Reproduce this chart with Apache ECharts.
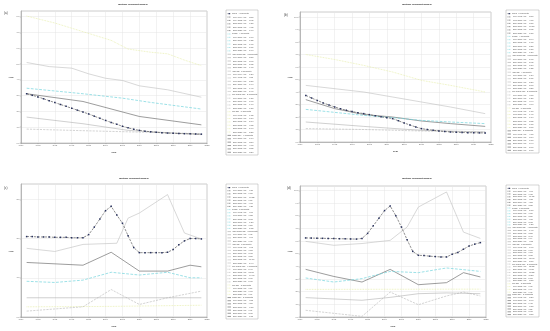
<!DOCTYPE html>
<html><head><meta charset="utf-8">
<script src="https://cdn.jsdelivr.net/npm/echarts@6/dist/echarts.min.js"></script>
<style>html,body{margin:0;padding:0;background:#fff}#c{width:550px;height:331px}</style>
</head><body><div id="c"></div>
<script>
// ---------- DATA ----------
const years = [1990,1991,1992,1993,1994,1995,1996,1997,1998,1999,2000,2001,2002,2003,2004,2005,2006,2007,2008,2009,2010,2011,2012,2013,2014,2015,2016,2017,2018,2019,2020,2021];
const xTicks = {min:1989, max:2022, step:3};
const panelLabels = ['(a)','(b)','(c)','(d)'];
const chartTitle = 'Multiple Joinpoint Models';
const xName = 'year';
const yName = 'ASR';
const yMax = [8.36, 10.4, 3.39, 10.34];
const yStep = [1, 1, 1, 1];
const groupNames = ['China','Global','High-middle SDI','High SDI','Low-middle SDI','Low SDI','Middle SDI'];

// panel (a)
const a_china = [3.12,3.02,2.92,2.80,2.68,2.56,2.44,2.32,2.20,2.08,1.96,1.84,1.70,1.56,1.43,1.30,1.18,1.06,0.96,0.87,0.80,0.75,0.71,0.68,0.65,0.63,0.61,0.60,0.59,0.58,0.57,0.56];
const a_global = [[1990,3.47],[2000,3.12],[2007,2.84],[2012,2.57],[2021,2.15]];
const a_hmsdi = [[1990,1.64],[2000,1.22],[2008,0.80],[2021,0.53]];
const a_hsdi = [[1990,5.10],[1994,4.84],[1998,4.74],[2001,4.38],[2004,4.10],[2007,3.96],[2010,3.62],[2015,3.37],[2021,2.90]];
const a_lmsdi = [[1990,0.88],[2000,0.78],[2021,0.59]];
const a_lsdi = [[1990,8.04],[1995,7.60],[2000,7.05],[2005,6.50],[2008,5.95],[2012,5.75],[2015,5.65],[2018,5.25],[2021,4.90]];
const a_msdi = [[1990,3.12],[2000,2.63],[2010,1.68],[2021,1.15]];

// panel (b)
const b_china = [3.73,3.52,3.32,3.13,2.96,2.80,2.66,2.54,2.44,2.35,2.27,2.19,2.10,2.02,1.95,1.87,1.70,1.52,1.36,1.20,1.07,1.00,0.94,0.89,0.84,0.80,0.78,0.76,0.75,0.74,0.73,0.72];
const b_global = [[1990,2.61],[2000,2.13],[2005,1.95],[2010,1.73],[2015,1.60],[2021,1.47]];
const b_hmsdi = [[1990,1.60],[2000,1.25],[2010,0.93],[2021,0.80]];
const b_hsdi = [[1990,4.53],[2000,4.00],[2005,3.60],[2010,3.20],[2015,2.80],[2021,2.27]];
const b_lmsdi = [[1990,1.07],[2000,1.00],[2010,0.88],[2021,0.80]];
const b_lsdi = [[1990,7.00],[1995,6.60],[2000,6.13],[2005,5.60],[2010,4.93],[2015,4.53],[2021,4.00]];
const b_msdi = [[1990,3.39],[1995,2.67],[2000,2.20],[2005,2.00],[2010,1.68],[2015,1.47],[2021,1.25]];

// panel (c)
const c_china = [2.05,2.05,2.04,2.04,2.04,2.03,2.03,2.03,2.02,2.02,2.02,2.10,2.29,2.50,2.71,2.82,2.60,2.39,2.07,1.77,1.64,1.64,1.64,1.64,1.64,1.65,1.72,1.84,1.94,2.00,2.00,1.99];
const c_global = [[1990,0.91],[1995,0.88],[2000,0.94],[2005,1.14],[2010,1.07],[2015,1.14],[2019,1.00],[2021,1.00]];
const c_hmsdi = [[1990,0.49],[2000,0.49],[2010,0.49],[2021,0.49]];
const c_hsdi = [[1990,1.75],[1995,1.67],[2000,1.85],[2006,1.88],[2008,2.52],[2010,2.65],[2015,3.12],[2018,2.14],[2021,1.99]];
const c_lmsdi = [[1990,0.15],[2000,0.26],[2005,0.70],[2010,0.32],[2015,0.49],[2021,0.66]];
const c_lsdi = [[1990,0.26],[2005,0.27],[2021,0.30]];
const c_msdi = [[1990,1.39],[2000,1.32],[2005,1.65],[2010,1.17],[2015,1.17],[2019,1.32],[2021,1.28]];

// panel (d)
const d_china = [6.24,6.23,6.22,6.21,6.20,6.19,6.18,6.17,6.16,6.15,6.20,6.60,7.20,7.80,8.40,8.76,8.00,7.10,6.10,5.18,4.87,4.85,4.80,4.77,4.74,4.74,4.95,5.10,5.35,5.60,5.75,5.87];
const d_global = [[1990,3.08],[1995,2.76],[2000,3.03],[2005,3.60],[2010,3.50],[2015,3.87],[2021,3.60]];
const d_hmsdi = [[1990,1.53],[2000,1.32],[2005,1.55],[2010,1.84],[2015,1.90],[2021,1.84]];
const d_hsdi = [[1990,5.97],[1995,5.66],[2000,5.80],[2005,6.05],[2008,7.10],[2010,8.68],[2015,9.87],[2018,6.70],[2021,6.20]];
const d_lmsdi = [[1990,0.53],[2000,0.05],[2005,1.97],[2010,0.97],[2015,1.66],[2018,1.97],[2021,1.66]];
const d_lsdi = [[1990,2.18],[2005,2.19],[2021,2.20]];
const d_msdi = [[1990,3.76],[1995,3.20],[2000,2.76],[2005,3.76],[2010,2.55],[2015,2.71],[2018,3.50],[2021,3.16]];

// legend texts
const legA = [
 ['China - 4 Joinpoints','1990-1994 APC = -3.51*','1994-2002 APC = -3.92*','2002-2010 APC = -7.21*','2010-2015 APC = -4.62*','2015-2021 APC = -1.90*'],
 ['Global - 4 Joinpoints','1990-2000 APC = -1.06*','2000-2007 APC = -1.32*','2007-2012 APC = -1.98*','2012-2017 APC = -2.11*','2017-2021 APC = -2.40*'],
 ['High-middle SDI - 3 Joinpoints','1990-2000 APC = -2.85*','2000-2008 APC = -5.01*','2008-2015 APC = -2.72*','2015-2021 APC = -1.45*'],
 ['High SDI - 5 Joinpoints','1990-1994 APC = -1.30*','1994-1998 APC = -0.52','1998-2004 APC = -2.31*','2004-2010 APC = -1.99*','2010-2015 APC = -1.41*','2015-2021 APC = -2.47*'],
 ['Low-middle SDI - 3 Joinpoints','1990-2000 APC = -1.21*','2000-2010 APC = -1.07*','2010-2015 APC = -1.40*','2015-2021 APC = -1.31*'],
 ['Low SDI - 5 Joinpoints','1990-1995 APC = -1.12*','1995-2000 APC = -1.50*','2000-2008 APC = -2.14*','2008-2015 APC = -0.73*','2015-2018 APC = -2.40*','2018-2021 APC = -2.35*'],
 ['Middle SDI - 4 Joinpoints','1990-2000 APC = -1.69*','2000-2005 APC = -3.80*','2005-2010 APC = -4.61*','2010-2015 APC = -3.82*','2015-2021 APC = -3.30*']
];
const legB = [
 ['China - 5 Joinpoints','1990-1995 APC = -5.57*','1995-2000 APC = -4.05*','2000-2005 APC = -3.75*','2005-2010 APC = -10.37*','2010-2015 APC = -5.62*','2015-2021 APC = -1.85*'],
 ['Global - 4 Joinpoints','1990-2000 APC = -2.04*','2000-2005 APC = -1.71*','2005-2010 APC = -2.35*','2010-2015 APC = -1.55*','2015-2021 APC = -1.36*'],
 ['High-middle SDI - 3 Joinpoints','1990-2000 APC = -2.45*','2000-2010 APC = -2.93*','2010-2015 APC = -1.50*','2015-2021 APC = -1.33*'],
 ['High SDI - 4 Joinpoints','1990-2000 APC = -1.24*','2000-2005 APC = -2.11*','2005-2010 APC = -2.36*','2010-2015 APC = -2.67*','2015-2021 APC = -3.35*'],
 ['Low-middle SDI - 3 Joinpoints','1990-2000 APC = -0.68*','2000-2010 APC = -1.28*','2010-2015 APC = -0.94*','2015-2021 APC = -0.90*'],
 ['Low SDI - 5 Joinpoints','1990-1995 APC = -1.17*','1995-2000 APC = -1.47*','2000-2005 APC = -1.79*','2005-2010 APC = -2.52*','2010-2015 APC = -1.68*','2015-2021 APC = -2.05*'],
 ['Middle SDI - 5 Joinpoints','1990-1995 APC = -4.65*','1995-2000 APC = -3.79*','2000-2005 APC = -1.87*','2005-2010 APC = -3.44*','2010-2015 APC = -2.67*','2015-2021 APC = -2.67*']
];
const legC = [
 ['China - 5 Joinpoints','1990-2000 APC = -0.15','2000-2005 APC = 6.89*','2005-2010 APC = -10.33*','2010-2015 APC = 0.12','2015-2019 APC = 4.98*','2019-2021 APC = -0.25'],
 ['Global - 5 Joinpoints','1990-1995 APC = -0.67','1995-2000 APC = 1.33*','2000-2005 APC = 3.93*','2005-2010 APC = -1.26*','2010-2015 APC = 1.27*','2015-2021 APC = -2.13*'],
 ['High-middle SDI - 2 Joinpoints','1990-2000 APC = 0.02','2000-2010 APC = -0.01','2010-2021 APC = 0.03'],
 ['High SDI - 5 Joinpoints','1990-1995 APC = -0.93','1995-2006 APC = 1.15*','2006-2010 APC = 8.95*','2010-2015 APC = 3.36*','2015-2018 APC = -11.76*','2018-2021 APC = -2.44*'],
 ['Low-middle SDI - 4 Joinpoints','1990-2000 APC = 5.49*','2000-2005 APC = 21.93*','2005-2010 APC = -14.66*','2010-2015 APC = 8.91*','2015-2021 APC = 5.07*'],
 ['Low SDI - 2 Joinpoints','1990-2005 APC = 0.26','2005-2021 APC = 0.66*','2015-2021 APC = 0.71'],
 ['Middle SDI - 5 Joinpoints','1990-2000 APC = -0.52','2000-2005 APC = 4.56*','2005-2010 APC = -6.78*','2010-2015 APC = 0.01','2015-2019 APC = 3.07*','2019-2021 APC = -1.53']
];
const legD = [
 ['China - 5 Joinpoints','1990-2000 APC = -0.07','2000-2005 APC = 7.05*','2005-2010 APC = -11.13*','2010-2015 APC = -0.55','2015-2019 APC = 4.28*','2019-2021 APC = 2.35*'],
 ['Global - 5 Joinpoints','1990-1995 APC = -2.17*','1995-2000 APC = 1.87*','2000-2005 APC = 3.51*','2005-2010 APC = -0.56','2010-2015 APC = 2.03*','2015-2021 APC = -1.25*'],
 ['High-middle SDI - 4 Joinpoints','1990-2000 APC = -1.47*','2000-2005 APC = 3.25*','2005-2010 APC = 3.47*','2010-2015 APC = 0.64','2015-2021 APC = -0.53'],
 ['High SDI - 5 Joinpoints','1990-1995 APC = -1.07*','1995-2005 APC = 0.67*','2005-2010 APC = 7.50*','2010-2015 APC = 2.62*','2015-2018 APC = -12.06*','2018-2021 APC = -2.57*'],
 ['Low-middle SDI - 5 Joinpoints','1990-2000 APC = -22.35*','2000-2005 APC = 46.03*','2005-2010 APC = -13.28*','2010-2015 APC = 11.31*','2015-2018 APC = 5.80*','2018-2021 APC = -5.58*'],
 ['Low SDI - 2 Joinpoints','1990-2005 APC = 0.03','2005-2015 APC = 0.04','2015-2021 APC = 0.05'],
 ['Middle SDI - 5 Joinpoints','1990-1995 APC = -3.20*','1995-2000 APC = -2.96*','2000-2005 APC = 6.42*','2005-2010 APC = -7.55*','2010-2015 APC = 1.22','2015-2018 APC = 8.95*','2018-2021 APC = -3.55*']
];

// ---------- LAYOUT / STYLE ----------
const panels = [
 {grid:{left:21,top:11,width:186,height:132}, data:[a_china,a_global,a_hmsdi,a_hsdi,a_lmsdi,a_lsdi,a_msdi], leg:legA, box:[226,10,32,145], title:[133,4], lab:[4,13], yn:[11,77]},
 {grid:{left:300,top:12,width:191,height:130}, data:[b_china,b_global,b_hmsdi,b_hsdi,b_lmsdi,b_lsdi,b_msdi], leg:legB, box:[506,10,33,143], title:[417,4], lab:[284,15], yn:[290,77]},
 {grid:{left:21,top:184,width:186,height:133}, data:[c_china,c_global,c_hmsdi,c_hsdi,c_lmsdi,c_lsdi,c_msdi], leg:legC, box:[226,184,32,135], title:[134,178], lab:[4,188], yn:[11,251]},
 {grid:{left:300,top:186,width:186,height:131}, data:[d_china,d_global,d_hmsdi,d_hsdi,d_lmsdi,d_lsdi,d_msdi], leg:legD, box:[506,185,33,132], title:[417,178], lab:[287,188], yn:[290,251]}
];
const gStyle = [
 {color:'#444', type:'dashed', width:0.6, sym:'rect', symSize:1.5, symColor:'#2a3360'},
 {color:'#72d4dc', type:'dashed', width:0.7, sym:'none'},
 {color:'#a8a8a8', type:'solid', width:0.55, sym:'none'},
 {color:'#bdbdbd', type:'solid', width:0.6, sym:'none'},
 {color:'#b0b0b0', type:'dashed', width:0.55, sym:'none'},
 {color:'#e6eda8', type:'dotted', width:0.8, sym:'none'},
 {color:'#5a5a5a', type:'solid', width:0.6, sym:'none'}
];

const option = {animation:false, backgroundColor:'#fff', grid:[], xAxis:[], yAxis:[], series:[], graphic:[]};
panels.forEach((p,i)=>{
  option.grid.push(Object.assign({show:true, borderColor:'#999', borderWidth:0.5, backgroundColor:'#fff'}, p.grid));
  option.xAxis.push({type:'value', gridIndex:i, min:xTicks.min, max:xTicks.max, interval:xTicks.step,
    axisLine:{show:true, onZero:false, lineStyle:{color:'#888', width:0.5}},
    axisTick:{show:true, length:1.2, lineStyle:{color:'#888', width:0.4}},
    axisLabel:{fontSize:2.2, color:'#666', margin:1.5, formatter:v=>String(v)},
    splitLine:{show:true, lineStyle:{color:'#e4e4e4', width:0.5}},
    name:xName, nameLocation:'middle', nameGap:8, nameTextStyle:{fontSize:2.4, color:'#333', fontWeight:'bold'}});
  option.yAxis.push({type:'value', gridIndex:i, min:0, max:yMax[i], interval:yStep[i],
    axisLine:{show:true, lineStyle:{color:'#888', width:0.5}},
    axisTick:{show:true, length:1.2, lineStyle:{color:'#888', width:0.4}},
    axisLabel:{fontSize:2.2, color:'#666', margin:1.5, showMaxLabel:false, formatter:v=>v.toFixed(1)},
    splitLine:{show:true, lineStyle:{color:'#e4e4e4', width:0.5}}});
  p.data.forEach((d,k)=>{
    const s = gStyle[k];
    const data = (typeof d[0] === 'number') ? d.map((v,j)=>[years[j], v]) : d;
    option.series.push({type:'line', xAxisIndex:i, yAxisIndex:i, data:data, name:groupNames[k],
      symbol: s.sym, symbolSize: s.symSize||0, showSymbol: s.sym!=='none', silent:true,
      itemStyle:{color: s.symColor||s.color},
      lineStyle:{color:s.color, type:s.type, width:s.width}, z: 10-k});
  });
  option.graphic.push({type:'text', x:p.title[0], y:p.title[1], style:{text:chartTitle, fontSize:2.4, fontWeight:'bold', fill:'#222', align:'center', verticalAlign:'middle'}});
  option.graphic.push({type:'text', x:p.lab[0], y:p.lab[1], style:{text:panelLabels[i], fontSize:3, fill:'#333', verticalAlign:'middle'}});
  option.graphic.push({type:'text', x:p.yn[0], y:p.yn[1], style:{text:yName, fontSize:2.4, fontWeight:'bold', fill:'#333', align:'center', verticalAlign:'middle'}});
  const [bx,by,bw,bh] = p.box;
  option.graphic.push({type:'rect', shape:{x:bx,y:by,width:bw,height:bh}, style:{fill:'#fff', stroke:'#aaa', lineWidth:0.5}});
  let total = 0; p.leg.forEach(g=>total+=g.length);
  const rh = (bh-3)/total;
  let r = 0;
  p.leg.forEach((g,k)=>{
    const s = gStyle[k];
    g.forEach((t,j)=>{
      const yy = by + 2 + rh*(r+0.5);
      option.graphic.push({type:'line', shape:{x1:bx+1.5,y1:yy,x2:bx+5,y2:yy}, style:{stroke:s.color, lineWidth:0.6, lineDash: s.type==='solid'?null:[1,0.6]}});
      if (j===0 && s.sym!=='none') option.graphic.push({type:'rect', shape:{x:bx+2.6,y:yy-0.6,width:1.2,height:1.2}, style:{fill:s.symColor}});
      option.graphic.push({type:'text', x: j===0 ? bx+6 : bx+7, y:yy, style:{text:t, fontSize:1.9, fill:'#555', verticalAlign:'middle'}});
      r++;
    });
  });
});
const chart = echarts.init(document.getElementById('c'), null, {renderer:'canvas'});
chart.setOption(option);
</script>
</body></html>
